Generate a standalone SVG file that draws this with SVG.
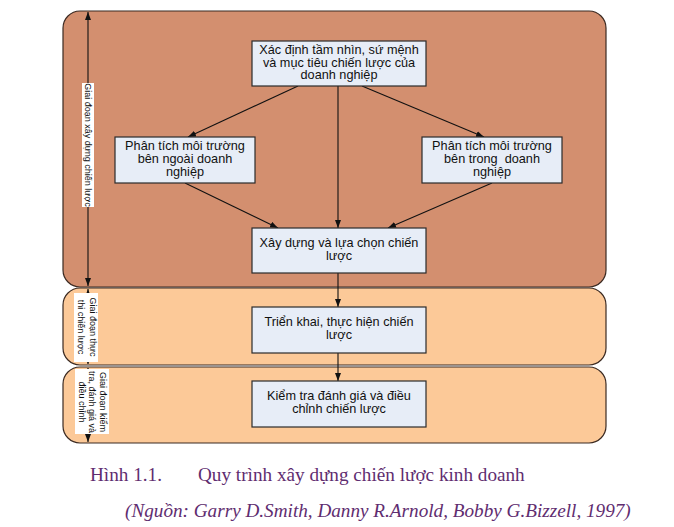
<svg xmlns="http://www.w3.org/2000/svg" width="674" height="527" viewBox="0 0 674 527">
<style>
.stage{stroke:#3b2a22;stroke-width:1.2}
.s1{fill:#D38F6F}
.s23{fill:#FCC998}
.node rect{fill:#E7EDF7;stroke:#2b2b2b;stroke-width:1.2}
.nt{font-family:"Liberation Sans",Arial,sans-serif;font-size:12.7px;fill:#111;text-anchor:middle}
.lt{font-family:"Liberation Sans",Arial,sans-serif;font-size:9px;fill:#111;text-anchor:middle}
.lbg{fill:#ffffff}
.conn line{stroke:#111;stroke-width:1.1;fill:none}
.cap{font-family:"Liberation Serif","Times New Roman",serif;font-size:19.2px;fill:#5F2D70}
</style>
<defs>
<marker id="ah" markerWidth="8" markerHeight="6" refX="8" refY="3" orient="auto" markerUnits="userSpaceOnUse">
<path d="M0,0 L8,3 L0,6 z" fill="#111"/>
</marker>
<marker id="ahs" markerWidth="8" markerHeight="6" refX="0" refY="3" orient="auto" markerUnits="userSpaceOnUse">
<path d="M8,0 L0,3 L8,6 z" fill="#111"/>
</marker>
</defs>
<rect width="674" height="527" fill="#ffffff"/>
<g id="stages">
<rect class="stage s1" x="63" y="11" width="543" height="276" rx="17" ry="17"/>
<rect class="stage s23" x="63" y="288" width="543" height="77" rx="17" ry="17"/>
<rect class="stage s23" x="63" y="367" width="543" height="76" rx="17" ry="17"/>
</g>
<g id="stage-arrows" class="conn">
<line x1="88" y1="12" x2="88" y2="286" marker-start="url(#ahs)" marker-end="url(#ah)"/>
<line x1="88" y1="289" x2="88" y2="364" marker-start="url(#ahs)" marker-end="url(#ah)"/>
<line x1="88" y1="368" x2="88" y2="442" marker-start="url(#ahs)" marker-end="url(#ah)"/>
</g>
<g id="label-stage1">
<rect class="lbg" x="82" y="83" width="12" height="124"/>
<text class="lt" transform="translate(84.8,145) rotate(90)"><tspan x="0" y="0">Giai đoạn xây dựng chiến lược</tspan></text>
</g>
<g id="label-stage2">
<rect class="lbg" x="74" y="293" width="24" height="69"/>
<text class="lt" transform="translate(89.8,327) rotate(90)"><tspan x="0" y="0">Giai đoạn thực</tspan><tspan x="0" y="11.5">thi chiến lược</tspan></text>
</g>
<g id="label-stage3">
<rect class="lbg" x="75" y="369" width="34" height="65"/>
<text class="lt" transform="translate(99.5,402) rotate(90)"><tspan x="0" y="0">Giai đoạn kiểm</tspan><tspan x="0" y="10.5">tra, đánh giá và</tspan><tspan x="0" y="21">điều chỉnh</tspan></text>
</g>
<g id="connectors" class="conn">
<line x1="298" y1="86" x2="188" y2="137" marker-end="url(#ah)"/>
<line x1="338" y1="86" x2="338" y2="228" marker-end="url(#ah)"/>
<line x1="362" y1="86" x2="484" y2="137" marker-end="url(#ah)"/>
<line x1="185" y1="183" x2="278" y2="228" marker-end="url(#ah)"/>
<line x1="492" y1="183" x2="388" y2="228" marker-end="url(#ah)"/>
<line x1="338" y1="273" x2="338" y2="307" marker-end="url(#ah)"/>
<line x1="338" y1="353" x2="338" y2="381" marker-end="url(#ah)"/>
</g>
<g id="node-vision" class="node">
<rect x="252" y="41" width="174" height="45"/>
<text class="nt"><tspan x="339" y="54">Xác định tầm nhìn, sứ mệnh</tspan><tspan x="339" y="66.5">và mục tiêu chiến lược của</tspan><tspan x="339" y="79">doanh nghiệp</tspan></text>
</g>
<g id="node-external" class="node">
<rect x="115" y="137" width="140" height="46"/>
<text class="nt"><tspan x="185" y="150">Phân tích môi trường</tspan><tspan x="185" y="163">bên ngoài doanh</tspan><tspan x="185" y="176">nghiệp</tspan></text>
</g>
<g id="node-internal" class="node">
<rect x="422" y="137" width="140" height="46"/>
<text class="nt"><tspan x="492" y="150">Phân tích môi trường</tspan><tspan x="492" y="163">bên trong&#160; doanh</tspan><tspan x="492" y="176">nghiệp</tspan></text>
</g>
<g id="node-build" class="node">
<rect x="252" y="228" width="174" height="45"/>
<text class="nt"><tspan x="339" y="247">Xây dựng và lựa chọn chiến</tspan><tspan x="339" y="260">lược</tspan></text>
</g>
<g id="node-implement" class="node">
<rect x="252" y="307" width="174" height="46"/>
<text class="nt"><tspan x="339" y="326">Triển khai, thực hiện chiến</tspan><tspan x="339" y="339">lược</tspan></text>
</g>
<g id="node-control" class="node">
<rect x="252" y="381" width="174" height="46"/>
<text class="nt"><tspan x="339" y="400">Kiểm tra đánh giá và điều</tspan><tspan x="339" y="413">chỉnh chiến lược</tspan></text>
</g>
<g id="caption">
<text class="cap" x="90" y="481">Hình 1.1.</text>
<text class="cap" x="198" y="481">Quy trình xây dựng chiến lược kinh doanh</text>
<text class="cap" x="125" y="517" font-style="italic">(Nguồn: Garry D.Smith, Danny R.Arnold, Bobby G.Bizzell, 1997)</text>
</g>
</svg>
